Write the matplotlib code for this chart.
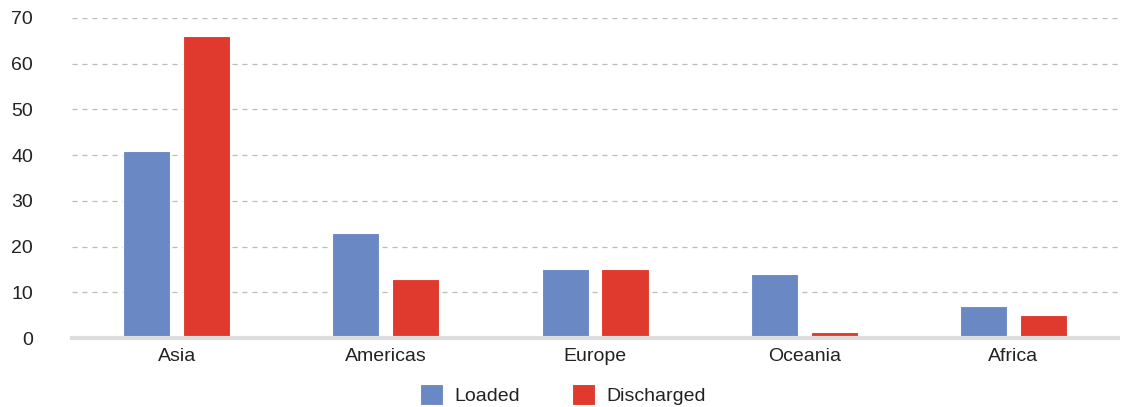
import numpy as np
import matplotlib.pyplot as plt

regions = ["Asia", "Americas", "Europe", "Oceania", "Africa"]
loaded = [41, 23, 15, 14, 7]
discharged = [66, 13, 15, 1.3, 5]
series_names = ["Loaded", "Discharged"]
y_ticks = [0, 10, 20, 30, 40, 50, 60, 70]

BLUE = "#6A88C4"
RED = "#E03A2E"
FS = 14

plt.rcParams["font.family"] = ["Liberation Sans", "DejaVu Sans"]

fig = plt.figure(figsize=(11.26, 4.07), dpi=100)
ax = fig.add_axes([0.064, 0.1695, 0.929, 0.7865])

x = np.arange(len(regions))
width = 0.225
offset = 0.143
ax.bar(x - offset, loaded, width, color=BLUE, edgecolor="white", linewidth=0.8,
       label=series_names[0], zorder=3)
ax.bar(x + offset, discharged, width, color=RED, edgecolor="white", linewidth=0.8,
       label=series_names[1], zorder=3)

ax.set_xlim(-0.5, len(regions) - 0.5)
ax.set_ylim(0, 70)
ax.set_yticks(y_ticks)
ax.set_xticks(x)
ax.set_xticklabels(regions)

ax.yaxis.grid(True, linestyle=(0, (4, 4)), color="#BBBBBB", linewidth=0.9, zorder=0)
for s in ["top", "right", "left"]:
    ax.spines[s].set_visible(False)
ax.spines["bottom"].set_color("#DDDDDD")
ax.spines["bottom"].set_linewidth(3)
ax.spines["bottom"].set_zorder(4)

ax.tick_params(axis="y", length=0, pad=28, labelsize=FS, labelcolor="#222222")
ax.tick_params(axis="x", length=0, pad=7, labelsize=FS, labelcolor="#222222")

fig.legend(loc="center", bbox_to_anchor=(0.5, 0.03), ncol=2, frameon=False,
           fontsize=FS, handlelength=1.15, handleheight=1.25, columnspacing=2.7,
           handletextpad=0.6, labelcolor="#222222")

fig.savefig("out.png", dpi=100)
